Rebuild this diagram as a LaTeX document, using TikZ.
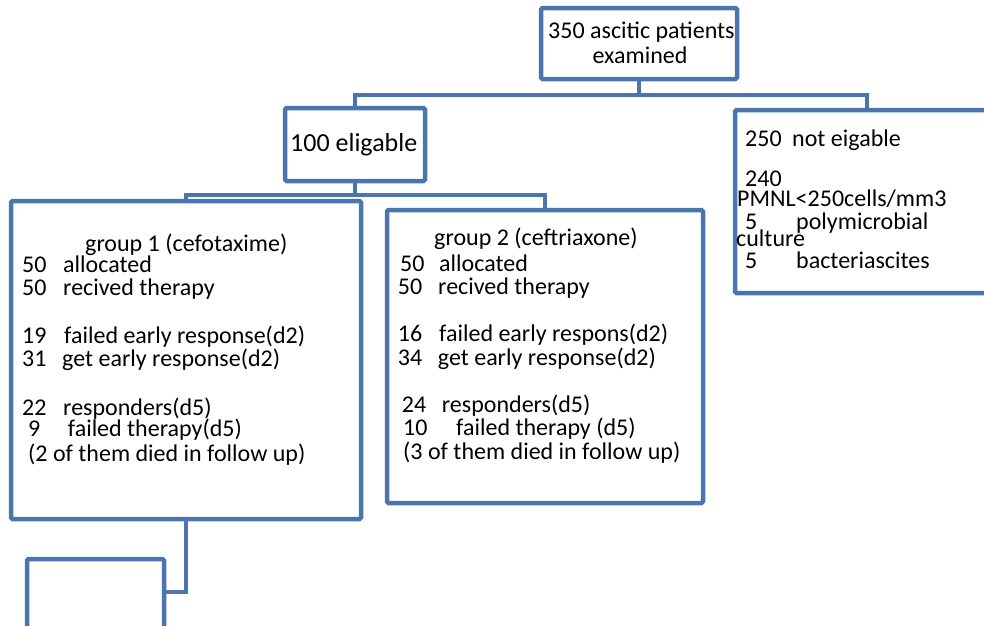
\documentclass[tikz,border=0pt]{standalone}
\usepackage{fontspec}
\setmainfont{Carlito}
\definecolor{boxblue}{RGB}{74,118,173}
\begin{document}
\begin{tikzpicture}[x=1pt,y=-1pt,
  box/.style={draw=boxblue,line width=4.5pt,rounded corners=1.5pt,rectangle,inner sep=0pt},
  conn/.style={draw=boxblue,line width=4.5pt},
  txt/.style={anchor=base west,inner sep=0pt,font=\fontsize{24}{24}\selectfont},
  ctxt/.style={anchor=base,inner sep=0pt,font=\fontsize{24}{24}\selectfont}]
\useasboundingbox (0,0) rectangle (984,625);
\clip (0,0) rectangle (984,625);
% boxes
\node[box,minimum width=196pt,minimum height=71pt] (top) at (639,43.5) {};
\node[box,minimum width=140pt,minimum height=73pt] (elig) at (355,144.5) {};
\node[box,minimum width=264pt,minimum height=183pt] (notel) at (867,201.5) {};
\node[box,minimum width=350pt,minimum height=318pt] (g1) at (186,360) {};
\node[box,minimum width=316pt,minimum height=293pt] (g2) at (545,356.5) {};
\node[box,minimum width=137pt,minimum height=120pt] (bot) at (95.5,619) {};
% connectors
\coordinate (busA) at (639,95);
\coordinate (busB) at (355,195);
\coordinate (busC) at (186,592);
\draw[conn] (top.south) -- (busA);
\draw[conn] (elig.north) |- (busA) -| (notel.north);
\draw[conn] (elig.south) -- (busB);
\draw[conn] (g1.north) |- (busB) -| (g2.north);
\draw[conn] (g1.south) |- (bot.east |- busC);
% top texts
\node[txt] (t1) at (548,38.3) {350 ascitic patients};
\node[ctxt] (t2) at (640,63.3) {examined};
\node[txt,font=\fontsize{26}{26}\selectfont] (e1) at (290,151.7) {100 eligable};
% not eligable
\node[txt] (n1) at (745,146.7) {\makebox[47pt][l]{250}not eigable};
\node[txt] (n2) at (745,186) {240};
\node[txt] (n3) at (737,206) {PMNL<250cells/mm3};
\node[txt] (n4) at (745,229) {\makebox[51pt][l]{5}polymicrobial};
\node[txt] (n5) at (736,246.7) {culture};
\node[txt] (n6) at (745,268) {\makebox[51pt][l]{5}bacteriascites};
% group 1
\node[txt] (a0) at (85,251.7) {group 1 (cefotaxime)};
\node[txt] (a1) at (22,272.7) {\makebox[41pt][l]{50}allocated};
\node[txt] (a2) at (22,295) {\makebox[41pt][l]{50}recived therapy};
\node[txt] (a3) at (22,343) {\makebox[42pt][l]{19}failed early response(d2)};
\node[txt] (a4) at (22,366.7) {\makebox[40pt][l]{31}get early response(d2)};
\node[txt] (a5) at (22,415) {\makebox[41pt][l]{22}responders(d5)};
\node[txt] (a6) at (28,436.7) {\makebox[39.7pt][l]{9}failed therapy(d5)};
\node[txt] (a7) at (28,461) {(2 of them died in follow up)};
% group 2
\node[txt] (b0) at (434,245) {group 2 (ceftriaxone)};
\node[txt] (b1) at (400,271.7) {\makebox[39pt][l]{50}allocated};
\node[txt] (b2) at (397.7,294) {\makebox[40.3pt][l]{50}recived therapy};
\node[txt] (b3) at (397.7,341.7) {\makebox[41.3pt][l]{16}failed early respons(d2)};
\node[txt] (b4) at (397.7,365) {\makebox[40pt][l]{34}get early response(d2)};
\node[txt] (b5) at (401.7,412.7) {\makebox[40pt][l]{24}responders(d5)};
\node[txt] (b6) at (403,435) {\makebox[53pt][l]{10}failed therapy (d5)};
\node[txt] (b7) at (403,459) {(3 of them died in follow up)};
\end{tikzpicture}
\end{document}
